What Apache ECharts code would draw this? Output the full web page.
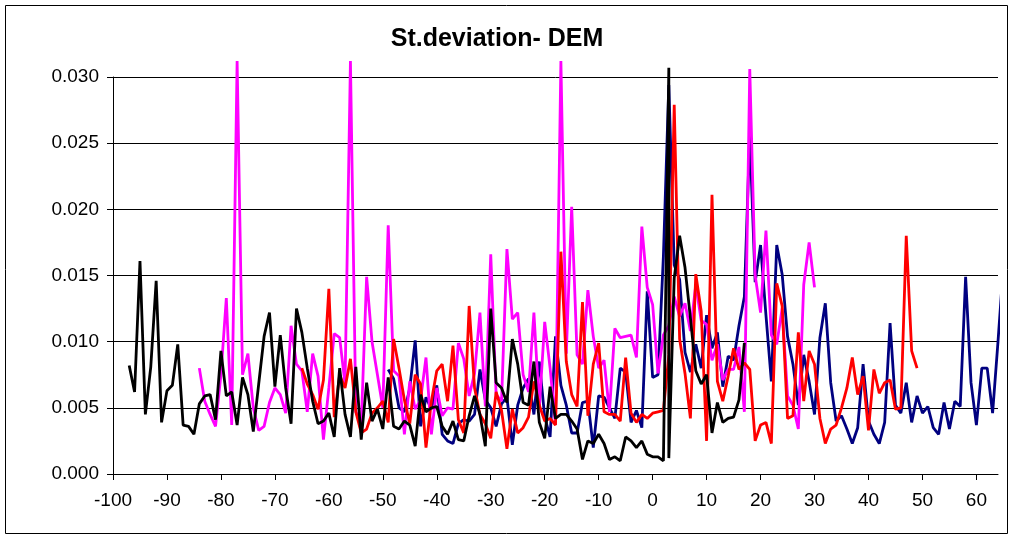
<!DOCTYPE html>
<html>
<head>
<meta charset="utf-8">
<script src="https://cdn.jsdelivr.net/npm/echarts@6/dist/echarts.min.js"></script>
<style>
html,body{margin:0;padding:0;background:#fff;}
#chart{width:1011px;height:538px;}
</style>
</head>
<body>
<div id="chart"></div>
<script>
const titleText = 'St.deviation- DEM';
const xMin = -100, xMax = 64, xStep = 10;
const yMin = 0, yMax = 0.030, yStep = 0.005;

// black series: x = -97 .. 3, then a second run starting again at x = 3 .. 17
const blackStart = -97;
const blackA = [
  0.0082,0.0062,0.0161,0.0045,0.0081,0.0146,0.0039,0.0063,0.0067,0.0098,
  0.0037,0.0036,0.0030,0.0053,0.0059,0.0060,0.0041,0.0093,0.0059,0.0062,
  0.0037,0.0073,0.0060,0.0032,0.0068,0.0104,0.0122,0.0066,0.0105,0.0065,
  0.0038,0.0125,0.0107,0.0080,0.0055,0.0038,0.0040,0.0046,0.0028,0.0080,
  0.0045,0.0028,0.0081,0.0026,0.0069,0.0040,0.0049,0.0034,0.0073,0.0036,
  0.0034,0.0040,0.0037,0.0021,0.0060,0.0047,0.0050,0.0051,0.0036,0.0030,
  0.0040,0.0026,0.0025,0.0044,0.0059,0.0045,0.0021,0.0125,0.0069,0.0065,
  0.0054,0.0102,0.0083,0.0054,0.0052,0.0085,0.0039,0.0027,0.0066,0.0042,
  0.0045,0.0045,0.0040,0.0034,0.0011,0.0025,0.0023,0.0030,0.0023,0.0011,
  0.0013,0.0010,0.0028,0.0025,0.0020,0.0025,0.0015,0.0013,0.0013,0.0010,
  0.0307
];
const blackBStart = 3;
const blackB = [0.0012,0.0148,0.0180,0.0156,0.0118,0.0078,0.0068,0.0075,0.0031,0.0054,0.0039,0.0042,0.0043,0.0056,0.0099];

const magentaStart = -84;
const magenta = [
  0.0080,0.0055,0.0045,0.0036,0.0075,0.0133,0.0037,0.0312,0.0075,0.0091,
  0.0050,0.0033,0.0036,0.0054,0.0065,0.0060,0.0046,0.0112,0.0083,0.0078,
  0.0047,0.0091,0.0074,0.0026,0.0065,0.0106,0.0103,0.0068,0.0312,0.0047,
  0.0037,0.0149,0.0100,0.0075,0.0050,0.0188,0.0078,0.0074,0.0030,0.0070,
  0.0049,0.0056,0.0088,0.0030,0.0065,0.0044,0.0050,0.0049,0.0099,0.0087,
  0.0059,0.0076,0.0122,0.0051,0.0166,0.0060,0.0055,0.0170,0.0117,0.0122,
  0.0075,0.0062,0.0122,0.0050,0.0115,0.0080,0.0037,0.0312,0.0091,0.0202,
  0.0090,0.0083,0.0139,0.0104,0.0080,0.0086,0.0047,0.0110,0.0103,0.0104,
  0.0105,0.0088,0.0187,0.0141,0.0128,0.0076,0.0105,0.0112,0.0134,0.0119,
  0.0129,0.0108,0.0143,0.0116,0.0113,0.0086,0.0098,0.0071,0.0079,0.0079,
  0.0096,0.0047,0.0306,0.0150,0.0122,0.0184,0.0105,0.0098,0.0125,0.0059,
  0.0052,0.0034,0.0143,0.0175,0.0141
];

const redStart = -65;
const red = [
  0.0080,0.0068,0.0060,0.0049,0.0071,0.0140,0.0043,0.0075,0.0065,0.0087,
  0.0047,0.0031,0.0034,0.0046,0.0050,0.0055,0.0039,0.0102,0.0080,0.0056,
  0.0038,0.0075,0.0068,0.0020,0.0055,0.0078,0.0083,0.0055,0.0097,0.0041,
  0.0031,0.0127,0.0065,0.0045,0.0038,0.0027,0.0062,0.0048,0.0019,0.0049,
  0.0031,0.0035,0.0043,0.0070,0.0052,0.0040,0.0042,0.0037,0.0168,0.0085,
  0.0060,0.0051,0.0130,0.0044,0.0083,0.0099,0.0047,0.0045,0.0045,0.0040,
  0.0088,0.0046,0.0039,0.0045,0.0042,0.0046,0.0047,0.0048,0.0090,0.0279,
  0.0102,0.0076,0.0042,0.0151,0.0123,0.0025,0.0211,0.0070,0.0055,0.0074,
  0.0095,0.0079,0.0084,0.0079,0.0025,0.0037,0.0039,0.0023,0.0144,0.0127,
  0.0042,0.0044,0.0107,0.0055,0.0093,0.0083,0.0042,0.0023,0.0034,0.0037,
  0.0050,0.0065,0.0088,0.0060,0.0074,0.0033,0.0079,0.0061,0.0069,0.0071,
  0.0049,0.0050,0.0180,0.0093,0.0080
];

const navyStart = -49;
const navy = [
  0.0079,0.0072,0.0050,0.0047,0.0065,0.0101,0.0036,0.0058,0.0049,0.0067,
  0.0030,0.0025,0.0023,0.0038,0.0041,0.0040,0.0045,0.0079,0.0056,0.0050,
  0.0036,0.0053,0.0058,0.0022,0.0052,0.0065,0.0072,0.0045,0.0085,0.0043,
  0.0028,0.0104,0.0067,0.0052,0.0031,0.0031,0.0054,0.0055,0.0020,0.0059,
  0.0058,0.0050,0.0042,0.0080,0.0077,0.0039,0.0048,0.0035,0.0138,0.0073,
  0.0075,0.0165,0.0294,0.0158,0.0147,0.0092,0.0077,0.0098,0.0080,0.0120,
  0.0095,0.0107,0.0066,0.0089,0.0086,0.0112,0.0134,0.0257,0.0145,0.0173,
  0.0120,0.0070,0.0173,0.0151,0.0104,0.0083,0.0052,0.0090,0.0070,0.0045,
  0.0103,0.0129,0.0069,0.0040,0.0044,0.0034,0.0023,0.0035,0.0083,0.0040,
  0.0030,0.0023,0.0039,0.0114,0.0052,0.0046,0.0069,0.0039,0.0059,0.0046,
  0.0051,0.0035,0.0030,0.0054,0.0034,0.0055,0.0051,0.0149,0.0069,0.0037,
  0.0080,0.0080,0.0046,0.0100,0.0158
];

function pairs(start, vals) { return vals.map((v, i) => [start + i, v]); }

const FONT = '"Liberation Sans", Arial, sans-serif';
const lineBase = { type: 'line', showSymbol: false, symbol: 'none', clip: false, animation: false };
const LW = 2.8;

const chart = echarts.init(document.getElementById('chart'), null, { renderer: 'canvas' });
chart.setOption({
  backgroundColor: '#fff',
  animation: false,
  graphic: [
    { type: 'rect', shape: { x: 5.5, y: 5.5, width: 1002, height: 528 }, style: { fill: 'none', stroke: '#000', lineWidth: 1 }, silent: true, z: -1 },
    { type: 'text', x: 497, y: 39, style: { text: titleText, font: 'bold 25px ' + FONT, fill: '#000', textAlign: 'center', textVerticalAlign: 'middle' } }
  ],
  grid: { left: 113, right: 13, top: 77, bottom: 64, containLabel: false },
  xAxis: {
    type: 'value', min: xMin, max: xMax, interval: xStep,
    axisLine: { show: true, onZero: false, lineStyle: { color: '#000', width: 1 } },
    axisTick: { show: true, length: 6, lineStyle: { color: '#000' } },
    axisLabel: { fontFamily: FONT, fontSize: 19, color: '#000', margin: 17, showMaxLabel: false },
    splitLine: { show: false }
  },
  yAxis: {
    type: 'value', min: yMin, max: yMax, interval: yStep,
    axisLine: { show: true, onZero: false, lineStyle: { color: '#000', width: 1 } },
    axisTick: { show: true, length: 6, lineStyle: { color: '#000' } },
    axisLabel: { fontFamily: FONT, fontSize: 19, color: '#000', margin: 14, formatter: v => v.toFixed(3) },
    splitLine: { show: true, lineStyle: { color: '#000', width: 1 } }
  },
  series: [
    Object.assign({}, lineBase, { name: 'navy', data: pairs(navyStart, navy), lineStyle: { color: '#000080', width: LW }, z: 2 }),
    Object.assign({}, lineBase, { name: 'magenta', data: pairs(magentaStart, magenta), lineStyle: { color: '#FF00FF', width: LW }, z: 3 }),
    Object.assign({}, lineBase, { name: 'red', data: pairs(redStart, red), lineStyle: { color: '#FF0000', width: LW }, z: 4 }),
    Object.assign({}, lineBase, { name: 'black', data: pairs(blackStart, blackA).concat(pairs(blackBStart, blackB)), lineStyle: { color: '#000000', width: LW }, z: 5 })
  ]
});
</script>
</body>
</html>
